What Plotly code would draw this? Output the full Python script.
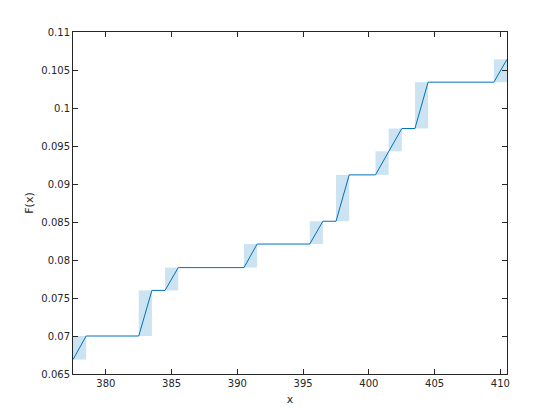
import plotly.graph_objects as go

# Data values (discrete support points and CDF levels at bin edges)
bin_centers = [378, 383, 385, 391, 396, 398, 401, 402, 404, 410]
cdf_before = [0.0669, 0.0700, 0.0760, 0.0790, 0.0821, 0.0851, 0.0912, 0.0943, 0.0973, 0.1034]
cdf_after = [0.0700, 0.0760, 0.0790, 0.0821, 0.0851, 0.0912, 0.0943, 0.0973, 0.1034, 0.1064]
x_ticks = [380, 385, 390, 395, 400, 405, 410]
y_ticks = [0.065, 0.07, 0.075, 0.08, 0.085, 0.09, 0.095, 0.1, 0.105, 0.11]
y_ticktext = ["0.065", "0.07", "0.075", "0.08", "0.085", "0.09", "0.095", "0.1", "0.105", "0.11"]
half_width = 0.5

fig = go.Figure()

# shaded rectangles at each jump
for c, lo, hi in zip(bin_centers, cdf_before, cdf_after):
    x0, x1 = c - half_width, c + half_width
    fig.add_trace(go.Scatter(
        x=[x0, x1, x1, x0, x0], y=[lo, lo, hi, hi, lo],
        mode="lines", fill="toself", fillcolor="rgba(0,114,189,0.2)",
        line=dict(width=0), hoverinfo="skip", showlegend=False))

# piecewise linear CDF
lx, ly = [], []
for c, lo, hi in zip(bin_centers, cdf_before, cdf_after):
    lx += [c - half_width, c + half_width]
    ly += [lo, hi]
fig.add_trace(go.Scatter(x=lx, y=ly, mode="lines",
                         line=dict(color="#0072BD", width=1), showlegend=False))

axis_common = dict(showgrid=False, zeroline=False, showline=True, linecolor="#262626",
                   linewidth=1, mirror="ticks", ticks="inside", ticklen=5, automargin=False,
                   tickcolor="#262626", tickfont=dict(family="DejaVu Sans", size=10, color="#262626"))

fig.update_xaxes(range=[377.5, 410.5], tickvals=x_ticks,
                 title=dict(text="x", font=dict(family="DejaVu Sans", size=11, color="#262626"), standoff=7),
                 **axis_common)
fig.update_yaxes(range=[0.065, 0.11], tickvals=y_ticks, ticktext=y_ticktext,
                 title=dict(text="F(x)", font=dict(family="DejaVu Sans", size=11, color="#262626"), standoff=5),
                 **axis_common)

fig.update_layout(width=560, height=420, margin=dict(l=65, r=61, t=24, b=54, pad=0),
                  plot_bgcolor="white", paper_bgcolor="white", showlegend=False)

fig.write_html("out.html")
